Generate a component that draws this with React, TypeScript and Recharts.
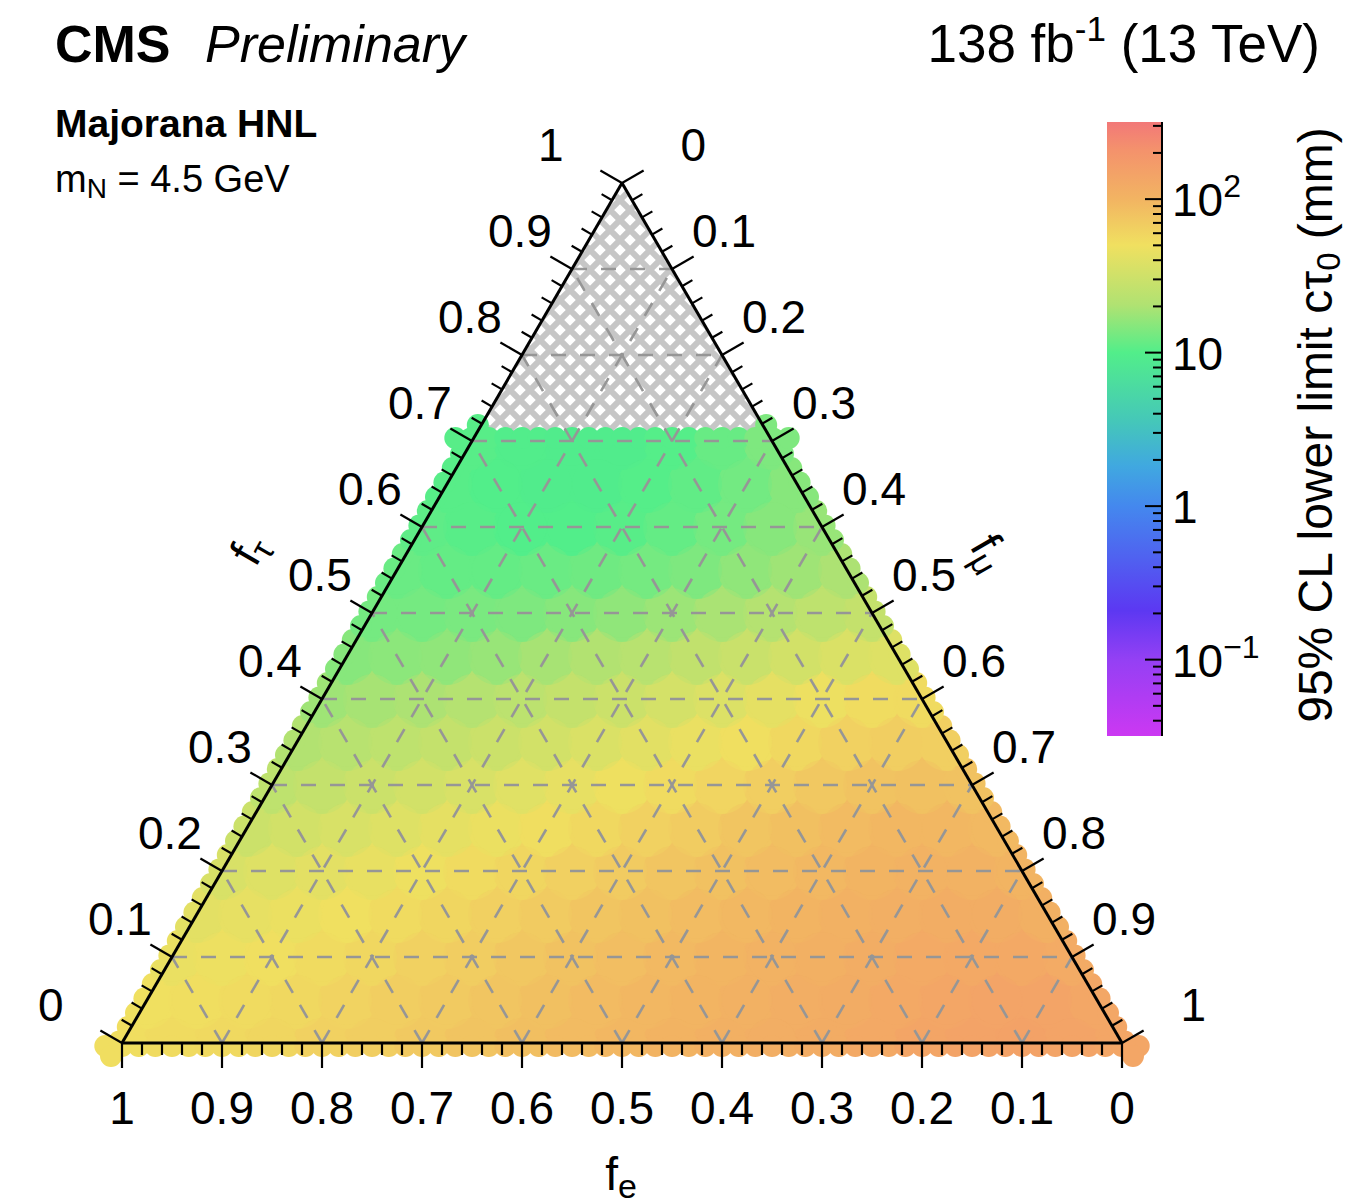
import React from 'react';
import { ComposedChart, XAxis, YAxis, Scatter, Area, ReferenceLine } from 'recharts';

const CHART_W = 1347;
const CHART_H = 1204;
const X_DOMAIN: [number, number] = [-0.122, 1.225];
const Y_DOMAIN: [number, number] = [-0.1872, 1.2128];
const FONT = '"Liberation Sans", Arial, Helvetica, sans-serif';

// 95% CL lower limit on c*tau0 (mm), read on a 0.05 grid.
// Each row: fixed f_tau; values listed for f_mu = 0, 0.05, ... up to 1 - f_tau.
const TAU_ROWS = [0, 0.05, 0.1, 0.15, 0.2, 0.25, 0.3, 0.35, 0.4, 0.45, 0.5, 0.55, 0.6, 0.65, 0.7];
const MU_STEP = 0.05;
const ctauTau00 = [52, 54, 56, 59, 63, 67, 72, 78, 84, 90, 96, 102, 108, 114, 120, 128, 138, 146, 148, 140, 134];
const ctauTau05 = [50, 52, 54, 57, 61, 66, 71, 77, 83, 89, 95, 101, 107, 113, 119, 127, 136, 142, 140, 132];
const ctauTau10 = [46, 48, 51, 54, 58, 63, 68, 74, 80, 86, 92, 98, 104, 110, 116, 123, 128, 128, 122];
const ctauTau15 = [42, 44, 47, 50, 54, 59, 64, 70, 76, 82, 88, 94, 100, 106, 112, 116, 116, 110];
const ctauTau20 = [36, 39, 42, 45, 49, 54, 59, 64, 70, 76, 82, 88, 94, 100, 104, 104, 100];
const ctauTau25 = [30, 33, 36, 39, 43, 47, 52, 57, 63, 69, 76, 83, 90, 95, 96, 92];
const ctauTau30 = [25, 27, 30, 33, 36, 40, 44, 49, 54, 60, 66, 73, 79, 82, 80];
const ctauTau35 = [21, 23, 25, 27, 30, 33, 37, 41, 46, 51, 57, 63, 67, 65];
const ctauTau40 = [18, 19, 20, 22, 24, 27, 30, 34, 38, 43, 48, 53, 54];
const ctauTau45 = [15, 15.5, 16, 17, 19, 21, 23, 26, 29, 33, 37, 39];
const ctauTau50 = [13, 13, 13.5, 14, 15, 16, 17.5, 19.5, 22, 25, 27];
const ctauTau55 = [12, 11.5, 11.5, 12, 12.5, 13, 14, 16, 18, 20];
const ctauTau60 = [11, 10.5, 10, 10, 10.5, 11.5, 13, 15, 17];
const ctauTau65 = [10.5, 10, 9.6, 9.6, 10.2, 11.2, 12.8, 15];
const ctauTau70 = [10.5, 9.8, 9.5, 9.6, 10.2, 11.8, 14];
const CTAU_ROWS = [ctauTau00, ctauTau05, ctauTau10, ctauTau15, ctauTau20, ctauTau25, ctauTau30, ctauTau35,
  ctauTau40, ctauTau45, ctauTau50, ctauTau55, ctauTau60, ctauTau65, ctauTau70];
const TAU_MAX = 0.7;

// axis ticks
const MAJOR_TICKS = [0, 0.1, 0.2, 0.3, 0.4, 0.5, 0.6, 0.7, 0.8, 0.9, 1];
const MAJOR_LABELS = ['0', '0.1', '0.2', '0.3', '0.4', '0.5', '0.6', '0.7', '0.8', '0.9', '1'];
const MINOR_STEP = 0.02;
const GRID_VALUES = [0.1, 0.2, 0.3, 0.4, 0.5, 0.6, 0.7, 0.8, 0.9];

// colour bar (log scale)
const CB_MIN = 0.0318;
const CB_MAX = 318;
const CB_MAJOR = [0.1, 1, 10, 100];
const CB_MINOR = [0.04, 0.05, 0.06, 0.07, 0.08, 0.09, 0.2, 0.3, 0.4, 0.5, 0.6, 0.7, 0.8, 0.9,
  2, 3, 4, 5, 6, 7, 8, 9, 20, 30, 40, 50, 60, 70, 80, 90, 200, 300];

const CMAP: [number, string][] = [
  [-1.5, '#cc38f2'], [-1.0, '#9440f4'], [-0.68, '#5c38f2'], [-0.35, '#5060f0'], [0.0, '#4488ee'],
  [0.26, '#40a8e0'], [0.56, '#45c8b8'], [1.0, '#52ee8a'], [1.31, '#b0e272'], [1.7, '#f0e060'],
  [2.0, '#f2b462'], [2.32, '#f4926c'], [2.51, '#f27878'],
];

function hexRgb(h: string) {
  return [parseInt(h.slice(1, 3), 16), parseInt(h.slice(3, 5), 16), parseInt(h.slice(5, 7), 16)];
}
function colorFor(v: number) {
  const l = Math.log10(v);
  if (l <= CMAP[0][0]) return CMAP[0][1];
  for (let i = 1; i < CMAP.length; i++) {
    if (l <= CMAP[i][0]) {
      const t = (l - CMAP[i - 1][0]) / (CMAP[i][0] - CMAP[i - 1][0]);
      const a = hexRgb(CMAP[i - 1][1]);
      const b = hexRgb(CMAP[i][1]);
      const c = a.map((av, k) => Math.round(av + (b[k] - av) * t));
      return `rgb(${c[0]},${c[1]},${c[2]})`;
    }
  }
  return CMAP[CMAP.length - 1][1];
}

// ternary -> cartesian (x along base, y = f_tau)
const tern = (fmu: number, ftau: number) => ({ x: fmu + ftau / 2, y: ftau });

const EPS = 1e-6;
const fieldPoints = CTAU_ROWS.flatMap((row, k) =>
  row.map((v, j) => {
    const tau = TAU_ROWS[k];
    const mu = j * MU_STEP;
    const fe = 1 - tau - mu;
    const edges: string[] = [];
    if (tau < EPS) edges.push('bottom');
    if (mu < EPS) edges.push('left');
    if (fe < EPS) edges.push('right');
    if (Math.abs(tau - TAU_MAX) < EPS) edges.push('top');
    return { ...tern(mu, tau), v, edges };
  })
);
const fieldPointsReversed = [...fieldPoints].reverse();
const edgePoints = fieldPoints.filter((p) => p.edges.length > 0);

const DIRS: Record<string, { t: number[]; n: number[] }> = {
  bottom: { t: [1, 0], n: [0, 1] },
  left: { t: [0.503, -0.865], n: [-0.865, -0.503] },
  right: { t: [0.503, 0.865], n: [0.865, -0.503] },
  top: { t: [1, 0], n: [0, -1] },
};

const nMinor = Math.round(1 / MINOR_STEP);
const tickPoints: any[] = [];
for (let i = 0; i <= nMinor; i++) {
  const t = i * MINOR_STEP;
  const major = i % 5 === 0;
  tickPoints.push({ ...tern(1 - t, 0), axis: 'bottom', major }); // f_e = t
  tickPoints.push({ ...tern(0, t), axis: 'left', major }); // f_tau = t
  tickPoints.push({ ...tern(t, 1 - t), axis: 'right', major }); // f_mu = t
}
const labelPoints: any[] = [];
MAJOR_TICKS.forEach((t, i) => {
  labelPoints.push({ ...tern(1 - t, 0), axis: 'bottom', label: MAJOR_LABELS[i] });
  labelPoints.push({ ...tern(0, t), axis: 'left', label: MAJOR_LABELS[i] });
  labelPoints.push({ ...tern(t, 1 - t), axis: 'right', label: MAJOR_LABELS[i] });
});

// polygons (range areas) for masking outside the triangle and hatched region
const X0 = X_DOMAIN[0];
const X1 = X_DOMAIN[1];
const Y0 = Y_DOMAIN[0];
const Y1 = Y_DOMAIN[1];
const maskBottom = [{ x: X0, r: [Y0, 0] }, { x: X1, r: [Y0, 0] }];
const maskLeft = [{ x: X0, r: [2 * X0, Y1] }, { x: 0.5, r: [1, Y1] }];
const maskRight = [{ x: 0.5, r: [1, Y1] }, { x: X1, r: [2 * (1 - X1), Y1] }];
const hatchPoly = [
  { x: TAU_MAX / 2, r: [TAU_MAX, TAU_MAX] },
  { x: 0.5, r: [TAU_MAX, 1] },
  { x: 1 - TAU_MAX / 2, r: [TAU_MAX, TAU_MAX] },
];

const FieldDot = (p: any) => <circle cx={p.cx} cy={p.cy} r={29} fill={colorFor(p.payload.v)} />;
const FieldDotSoft = (p: any) => <circle cx={p.cx} cy={p.cy} r={25} fill={colorFor(p.payload.v)} fillOpacity={0.5} />;

const SCALLOP_OFFS = [-16.7, 0, 16.7];
const Scallop = (p: any) => {
  const col = colorFor(p.payload.v);
  const out: any[] = [];
  p.payload.edges.forEach((e: string) => {
    const d = DIRS[e];
    SCALLOP_OFFS.forEach((s, i) => {
      out.push(
        <circle key={e + i} cx={p.cx + d.t[0] * s + d.n[0] * 3} cy={p.cy + d.t[1] * s + d.n[1] * 3} r={11} fill={col} />
      );
    });
  });
  return <g>{out}</g>;
};

const TickMark = (p: any) => {
  const d = DIRS[p.payload.axis].n;
  const len = p.payload.major ? 25 : 12;
  return <line x1={p.cx} y1={p.cy} x2={p.cx + d[0] * len} y2={p.cy + d[1] * len} stroke="#000" strokeWidth={2.2} />;
};

const TickLabel = (p: any) => {
  const a = p.payload.axis;
  let x = p.cx;
  let y = p.cy;
  let anchor: any = 'middle';
  if (a === 'bottom') { y = p.cy + 81; }
  else if (a === 'left') { x = p.cx - 84; y = p.cy - 22; anchor = 'start'; }
  else { x = p.cx + 84; y = p.cy - 22; anchor = 'end'; }
  return (
    <text x={x} y={y} textAnchor={anchor} fontSize={46} fontFamily={FONT} fill="#000">{p.payload.label}</text>
  );
};

const gridSegments: any[] = [];
GRID_VALUES.forEach((c) => {
  gridSegments.push([tern(0, c), tern(1 - c, c)]); // f_tau = c
  gridSegments.push([tern(1 - c, 0), tern(0, 1 - c)]); // f_e = c
  gridSegments.push([tern(c, 0), tern(c, 1 - c)]); // f_mu = c
});
const edgeSegments = [
  [tern(0, 0), tern(1, 0)],
  [tern(0, 0), tern(0, 1)],
  [tern(0, 1), tern(1, 0)],
];

// colour bar geometry
const CB_X = 1107;
const CB_W = 55;
const CB_TOP = 122;
const CB_BOT = 736;
const LOG_SPAN = Math.log10(CB_MAX) - Math.log10(CB_MIN);
const cbY = (v: number) => CB_TOP + ((Math.log10(CB_MAX) - Math.log10(v)) / LOG_SPAN) * (CB_BOT - CB_TOP);
const cbStops = [...CMAP].reverse().map(([l, c]) => ({
  off: Math.min(1, Math.max(0, (Math.log10(CB_MAX) - l) / LOG_SPAN)),
  c,
}));

const cbLabel = (v: number) => {
  if (v === 1) return <tspan>1</tspan>;
  if (v === 10) return <tspan>10</tspan>;
  if (v === 100) return (<><tspan>10</tspan><tspan fontSize={32} dy={-19}>2</tspan></>);
  return (<><tspan>10</tspan><tspan fontSize={32} dy={-19}>−1</tspan></>);
};

export default function App() {
  return (
    <div style={{ position: 'absolute', left: 0, top: 0, width: CHART_W, height: CHART_H, background: '#ffffff' }}>
      <div style={{ position: 'absolute', left: 0, top: 0 }}>
        <ComposedChart width={CHART_W} height={CHART_H} margin={{ top: 0, right: 0, bottom: 0, left: 0 }}>
          <XAxis type="number" dataKey="x" domain={X_DOMAIN} allowDataOverflow hide />
          <YAxis type="number" dataKey="y" domain={Y_DOMAIN} allowDataOverflow hide />
          <Scatter data={fieldPoints} shape={FieldDot} isAnimationActive={false} zIndex={100} />
          <Scatter data={fieldPointsReversed} shape={FieldDotSoft} isAnimationActive={false} zIndex={105} />
          {[maskBottom, maskLeft, maskRight].map((m, i) => (
            <Area key={'m' + i} data={m} dataKey="r" type="linear" stroke="none" fill="#ffffff" fillOpacity={1}
              isAnimationActive={false} dot={false} activeDot={false} zIndex={110} />
          ))}
          <Area data={hatchPoly} dataKey="r" type="linear" stroke="none" fill="url(#hatchPat)" fillOpacity={1}
            isAnimationActive={false} dot={false} activeDot={false} zIndex={120} />
          <Scatter data={edgePoints} shape={Scallop} isAnimationActive={false} zIndex={130} />
          {gridSegments.map((s, i) => (
            <ReferenceLine key={'g' + i} segment={s} stroke="#969696" strokeWidth={2.6} strokeDasharray="15 14"
              ifOverflow="visible" zIndex={140} />
          ))}
          {edgeSegments.map((s, i) => (
            <ReferenceLine key={'e' + i} segment={s} stroke="#000000" strokeWidth={3} ifOverflow="visible" zIndex={150} />
          ))}
          <Scatter data={tickPoints} shape={TickMark} isAnimationActive={false} zIndex={160} />
          <Scatter data={labelPoints} shape={TickLabel} isAnimationActive={false} zIndex={170} />
        </ComposedChart>
      </div>
      <svg width={CHART_W} height={CHART_H} style={{ position: 'absolute', left: 0, top: 0, pointerEvents: 'none' }}
        fontFamily={FONT}>
        <defs>
          <pattern id="hatchPat" patternUnits="userSpaceOnUse" width={20} height={20}>
            <rect width={20} height={20} fill="#ffffff" />
            <path d="M-5,5 L5,-5 M0,20 L20,0 M15,25 L25,15 M-5,15 L5,25 M0,0 L20,20 M15,-5 L25,5" stroke="#c6c6c6" strokeWidth={6} />
          </pattern>
          <linearGradient id="cbGrad" x1="0" y1="0" x2="0" y2="1">
            {cbStops.map((s, i) => <stop key={i} offset={s.off} stopColor={s.c} />)}
          </linearGradient>
        </defs>
        {/* header */}
        <text x={55} y={62} fontSize={52} fontWeight="bold">CMS</text>
        <text x={205} y={62} fontSize={52} fontStyle="italic">Preliminary</text>
        <text x={1320} y={62} fontSize={53} textAnchor="end">138 fb<tspan fontSize={35} dy={-21}>-1</tspan><tspan dy={21}> (13 TeV)</tspan></text>
        <text x={55} y={137} fontSize={39} fontWeight="bold">Majorana HNL</text>
        <text x={55} y={192} fontSize={38}>m<tspan fontSize={28} dy={6}>N</tspan><tspan dy={-6}> = 4.5 GeV</tspan></text>
        {/* axis titles */}
        <text x={621} y={1190} fontSize={46} textAnchor="middle">f<tspan fontSize={34} dy={8}>e</tspan></text>
        <text transform="translate(262,557) rotate(-60)" fontSize={46} textAnchor="middle">f<tspan fontSize={34} dy={8}>τ</tspan></text>
        <text transform="translate(977,560) rotate(60)" fontSize={46} textAnchor="middle">f<tspan fontSize={34} dy={8}>μ</tspan></text>
        {/* colour bar */}
        <rect x={CB_X} y={CB_TOP} width={CB_W} height={CB_BOT - CB_TOP} fill="url(#cbGrad)" />
        <line x1={CB_X + CB_W} y1={CB_TOP} x2={CB_X + CB_W} y2={CB_BOT} stroke="#000" strokeWidth={2} />
        {CB_MINOR.map((v, i) => (
          <line key={'cm' + i} x1={CB_X + CB_W} x2={CB_X + CB_W - 9} y1={cbY(v)} y2={cbY(v)} stroke="#000" strokeWidth={2} />
        ))}
        {CB_MAJOR.map((v, i) => (
          <g key={'cM' + i}>
            <line x1={CB_X + CB_W} x2={CB_X + CB_W - 17} y1={cbY(v)} y2={cbY(v)} stroke="#000" strokeWidth={2} />
            <text x={1172} y={cbY(v) + 17} fontSize={46}>{cbLabel(v)}</text>
          </g>
        ))}
        <text transform="translate(1332,425) rotate(-90)" fontSize={48} textAnchor="middle">
          95% CL lower limit cτ<tspan fontSize={33} dy={8}>0</tspan><tspan dy={-8}> (mm)</tspan>
        </text>
      </svg>
    </div>
  );
}
